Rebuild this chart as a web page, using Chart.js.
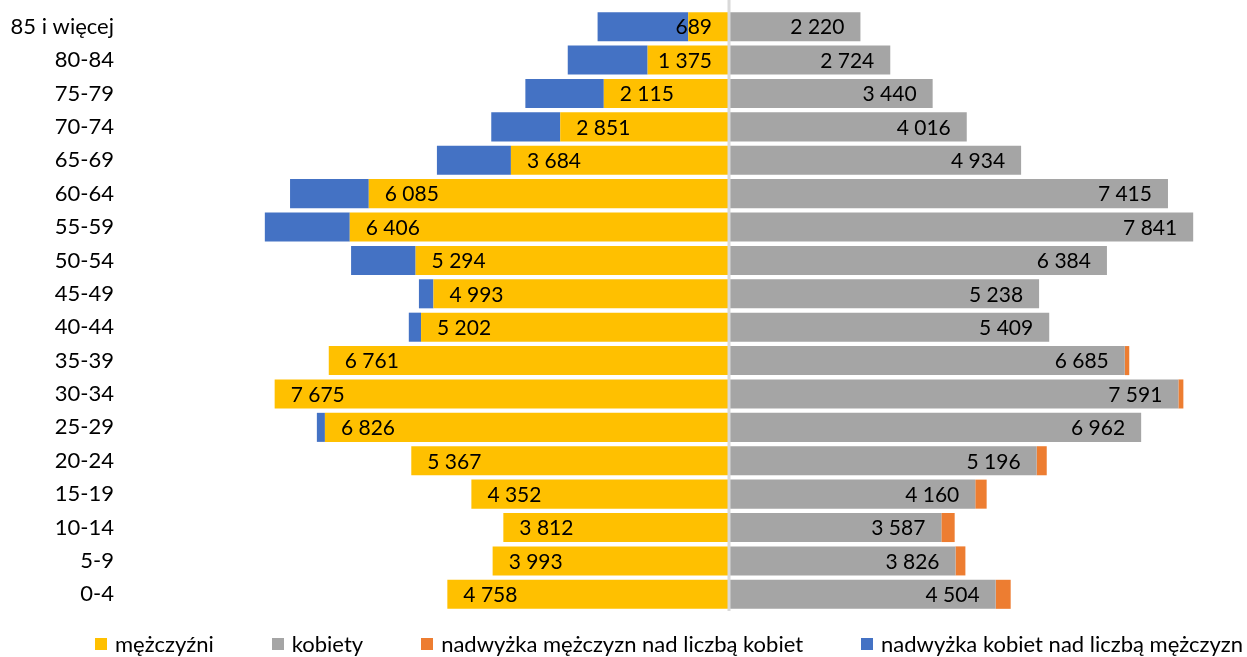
<!DOCTYPE html>
<html><head><meta charset="utf-8">
<script src="https://cdn.jsdelivr.net/npm/chart.js@4/dist/chart.umd.min.js"></script>
<style>
html,body{margin:0;padding:0;background:#fff;}
#wrap{position:relative;width:1247px;height:657px;}
#legend{position:absolute;left:95px;top:632px;display:flex;align-items:center;font-family:Lato,"Open Sans",sans-serif;font-size:22px;color:#000;white-space:nowrap;line-height:24px}
.item{display:flex;align-items:center;margin-right:58px}
.box{width:12px;height:12px;margin-right:8px}
</style></head>
<body><div id="wrap"><canvas id="c" width="1247" height="657"></canvas><div id="legend"></div></div>
<script>
const categories = ['85 i więcej','80-84','75-79','70-74','65-69','60-64','55-59','50-54','45-49','40-44','35-39','30-34','25-29','20-24','15-19','10-14','5-9','0-4'];
const men = [689,1375,2115,2851,3684,6085,6406,5294,4993,5202,6761,7675,6826,5367,4352,3812,3993,4758];
const women = [2220,2724,3440,4016,4934,7415,7841,6384,5238,5409,6685,7591,6962,5196,4160,3587,3826,4504];
const surplusMen = [0,0,0,0,0,0,0,0,0,0,76,84,0,171,192,225,167,254];
const surplusWomen = [1531,1349,1325,1165,1250,1330,1435,1090,245,207,0,0,136,0,0,0,0,0];
const seriesNames = ['mężczyźni','kobiety','nadwyżka mężczyzn nad liczbą kobiet','nadwyżka kobiet nad liczbą mężczyzn'];
const colors = ['#FFC000','#A5A5A5','#ED7D31','#4472C4'];

const FONT = 'Lato, "Open Sans", sans-serif';
const fmt = n => String(n).replace(/\B(?=(\d{3})+(?!\d))/g, '\u00a0');

const labelPlugin = {
  id: 'labels',
  afterDatasetsDraw(chart) {
    const ctx = chart.ctx;
    const xs = chart.scales.x;
    const area = chart.chartArea;
    const zero = xs.getPixelForValue(0);
    ctx.save();
    ctx.fillStyle = '#D9D9D9';
    ctx.fillRect(zero - 1.5, 0, 3, area.bottom);
    ctx.font = '21px ' + FONT;
    ctx.fillStyle = '#000';
    ctx.textBaseline = 'middle';
    const mMeta = chart.getDatasetMeta(0);
    mMeta.data.forEach((el, i) => {
      const t = fmt(men[i]);
      const w = ctx.measureText(t).width;
      const left = Math.min(el.x + 16, zero - 17 - w);
      ctx.textAlign = 'left';
      ctx.fillText(t, left, el.y + 1);
    });
    const wMeta = chart.getDatasetMeta(1);
    wMeta.data.forEach((el, i) => {
      const t = fmt(women[i]);
      const w = ctx.measureText(t).width;
      const right = Math.max(el.x - 16, zero + 17 + w);
      ctx.textAlign = 'right';
      ctx.fillText(t, right, el.y + 1);
    });
    ctx.restore();
  }
};

const common = {barPercentage: 1, categoryPercentage: 0.87, borderWidth: 0};
new Chart(document.getElementById('c'), {
  type: 'bar',
  data: {
    labels: categories,
    datasets: [
      Object.assign({label: seriesNames[0], data: men.map(v => -v), backgroundColor: colors[0]}, common),
      Object.assign({label: seriesNames[1], data: women, backgroundColor: colors[1]}, common),
      Object.assign({label: seriesNames[2], data: surplusMen, backgroundColor: colors[2]}, common),
      Object.assign({label: seriesNames[3], data: surplusWomen.map(v => -v), backgroundColor: colors[3]}, common)
    ]
  },
  options: {
    indexAxis: 'y',
    responsive: false,
    animation: false,
    devicePixelRatio: 1,
    layout: {padding: {top: 10, right: 10, bottom: 46, left: 0}},
    plugins: {legend: {display: false}, tooltip: {enabled: false}},
    scales: {
      x: {stacked: true, min: -10203, max: 8581, display: false},
      y: {
        stacked: true,
        grid: {display: false, drawTicks: false},
        border: {display: false},
        ticks: {padding: 11, color: '#000', font: {family: FONT, size: 22}},
        afterFit(s) { s.width = 125; s.paddingTop = 0; s.paddingBottom = 0; }
      }
    }
  },
  plugins: [labelPlugin]
});

const lg = document.getElementById('legend');
seriesNames.forEach((n, i) => {
  const it = document.createElement('div'); it.className = 'item';
  const b = document.createElement('div'); b.className = 'box'; b.style.background = colors[i];
  const s = document.createElement('span'); s.textContent = n;
  it.appendChild(b); it.appendChild(s); lg.appendChild(it);
});
</script>
</body></html>
